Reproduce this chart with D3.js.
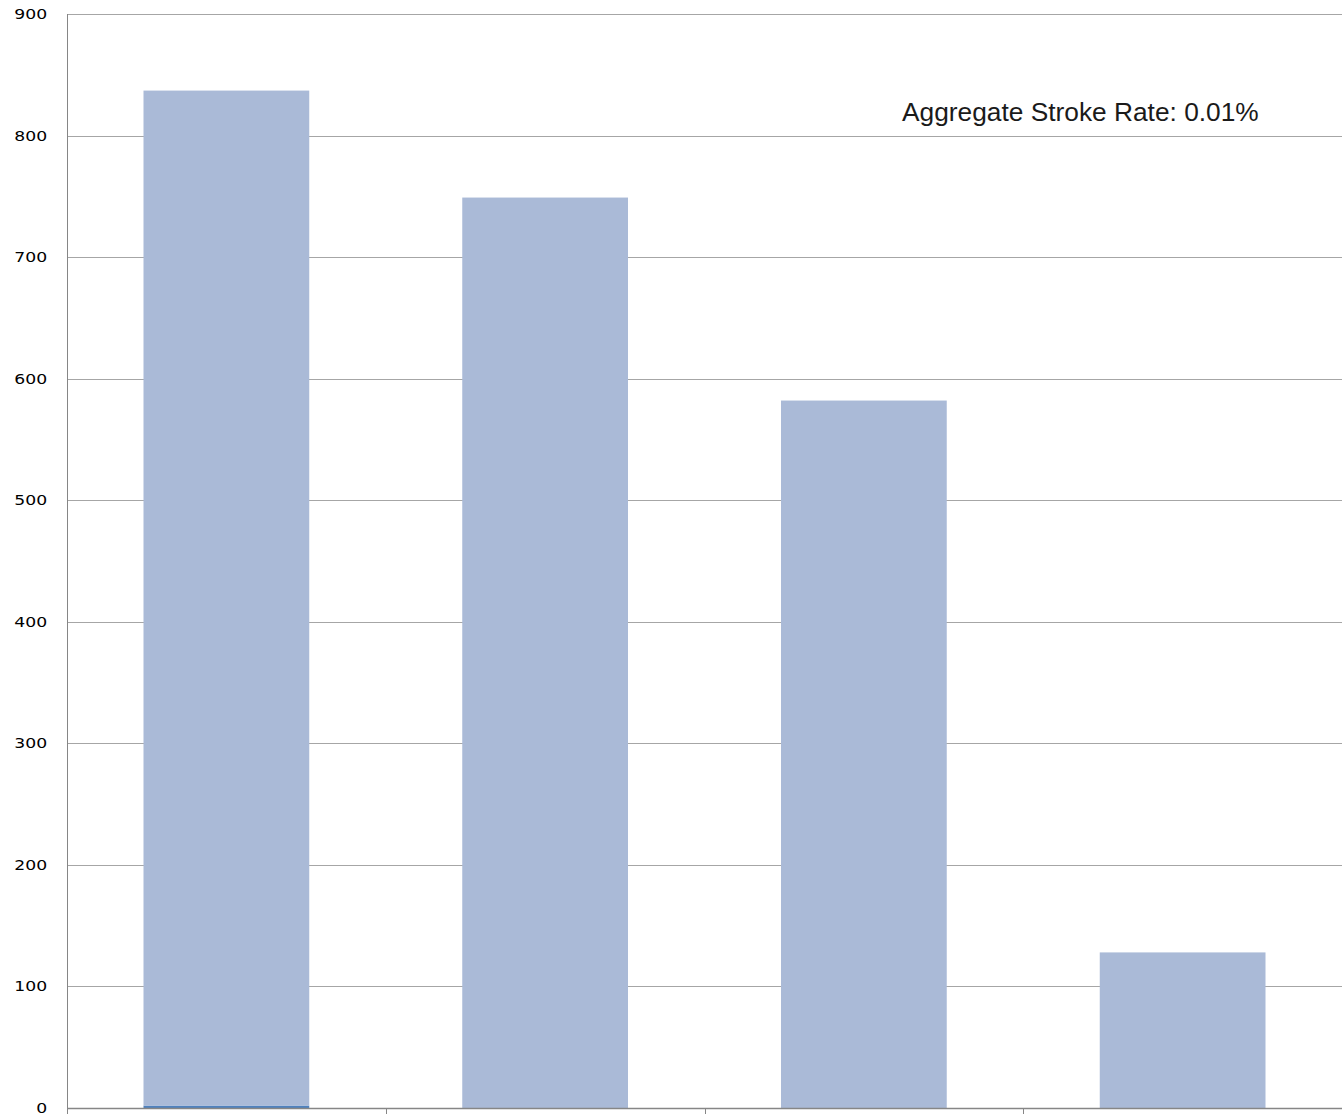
<!DOCTYPE html>
<html><head><meta charset="utf-8">
<script src="https://cdn.jsdelivr.net/npm/d3@7"></script>
<style>html,body{margin:0;padding:0;background:#fff;}svg{display:block;}</style>
</head><body>
<svg id="chart" width="1342" height="1114"></svg>
<script>
const categories = ["Group 1", "Group 2", "Group 3", "Group 4"];
const strokeValues = [2, 0, 0, 0];
const noStrokeValues = [835, 749, 582, 128];
const yTicks = [0, 100, 200, 300, 400, 500, 600, 700, 800, 900];
const annotation = "Aggregate Stroke Rate: 0.01%";

const W = 1342, H = 1114;
const m = {left: 67, top: 14, right: 0, bottom: 6};
const svg = d3.select("#chart");

const rows = categories.map((c, i) => ({cat: c, stroke: strokeValues[i], noStroke: noStrokeValues[i]}));
const stack = d3.stack().keys(["stroke", "noStroke"]);
const series = stack(rows);

const x = d3.scaleBand().domain(categories).range([m.left, W - m.right]).paddingInner(0.48).paddingOuter(0.24);
const y = d3.scaleLinear().domain([0, 900]).range([H - m.bottom, m.top]);

// gridlines
svg.append("g").selectAll("line").data(yTicks.filter(d => d > 0)).join("line")
  .attr("x1", m.left).attr("x2", W).attr("y1", d => Math.round(y(d)) + 0.5).attr("y2", d => Math.round(y(d)) + 0.5)
  .attr("stroke", "#a6a6a6").attr("stroke-width", 1);

const colors = {stroke: "#4f81bd", noStroke: "#aabad7"};
svg.append("g").selectAll("g").data(series).join("g")
  .attr("fill", d => colors[d.key])
  .selectAll("rect").data(d => d).join("rect")
  .attr("x", d => x(d.data.cat))
  .attr("width", x.bandwidth())
  .attr("y", d => y(d[1]))
  .attr("height", d => Math.max(0, y(d[0]) - y(d[1])));

// y axis
const yAxis = d3.axisLeft(y).tickValues(yTicks).tickSize(0).tickPadding(16.5);
const gy = svg.append("g").attr("transform", `translate(${m.left + 0.5},0)`).call(yAxis);
gy.select(".domain").attr("stroke", "#868686").attr("d", `M0,${m.top}V${H}`);
gy.selectAll("text").attr("font-family", "DejaVu Sans, Verdana, sans-serif").attr("font-size", 14)
  .attr("fill", "#000").attr("transform", "scale(1.23,1)");

// x axis with boundary ticks
const step = x.step();
const boundaries = d3.range(1, categories.length).map(i => m.left + i * step);
const gx = svg.append("g");
gx.append("line").attr("x1", m.left).attr("x2", W).attr("y1", Math.round(y(0)) + 0.5).attr("y2", Math.round(y(0)) + 0.5)
  .attr("stroke", "#868686").attr("stroke-width", 1.5);
gx.selectAll("line.tick").data(boundaries).join("line").attr("class", "tick")
  .attr("x1", d => Math.round(d) + 0.5).attr("x2", d => Math.round(d) + 0.5)
  .attr("y1", y(0)).attr("y2", H).attr("stroke", "#868686");

// annotation
svg.append("text").attr("x", 902).attr("y", 121)
  .attr("font-family", "Liberation Sans, Arial, sans-serif").attr("font-size", 26.3).attr("fill", "#1a1a1a")
  .text(annotation);
</script>
</body></html>
